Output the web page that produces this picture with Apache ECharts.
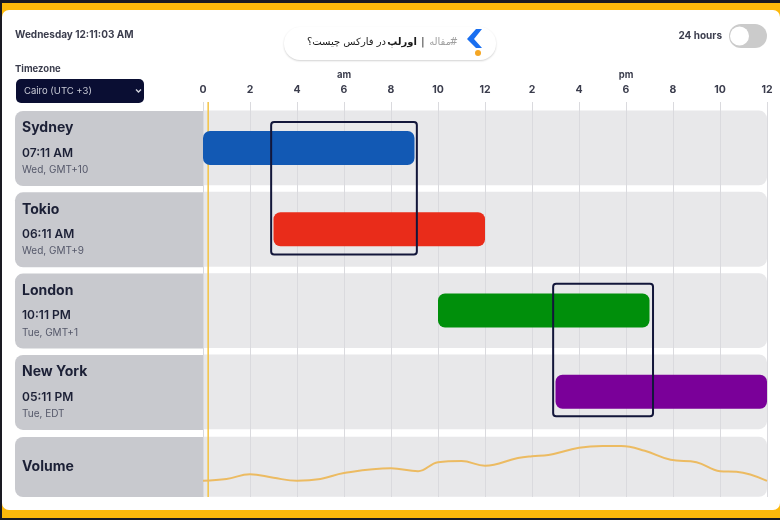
<!DOCTYPE html>
<html>
<head>
<meta charset="utf-8">
<title>Forex sessions</title>
<script src="https://cdn.jsdelivr.net/npm/echarts@6/dist/echarts.min.js"></script>
<style>
  html, body { margin: 0; padding: 0; background: #fff; }
  #chart { width: 780px; height: 520px; }
</style>
</head>
<body>
<div id="chart"></div>
<script>
// sessions, hours on a 0-24 axis
const cities = ['Sydney', 'Tokio', 'London', 'New York'];
const localTimes = ['07:11 AM', '06:11 AM', '10:11 PM', '05:11 PM'];
const zones = ['Wed, GMT+10', 'Wed, GMT+9', 'Tue, GMT+1', 'Tue, EDT'];
const sessionStart = [0, 3, 10, 15];
const sessionEnd = [9, 12, 19, 24];
const barColors = ['#1259b4', '#e92c1a', '#008f0b', '#7a0099'];

// overlap boxes, y is in row units (0 = Sydney)
const overlapStart = [2.9, 14.9];
const overlapEnd = [9.1, 19.15];
const overlapTop = [-0.32, 1.67];
const overlapBottom = [1.31, 3.3];

const nowHour = 0.22;
const tickLabels = ['0', '2', '4', '6', '8', '10', '12', '2', '4', '6', '8', '10', '12'];

// volume curve
const volumeHours = [0, 1, 2, 3, 4, 5, 6, 8, 9.15, 10, 11, 12, 13.4, 14, 14.7, 16, 17, 17.8, 18.8, 19.9, 21, 22, 22.7, 24];
const volumeValues = [27, 30, 38, 32, 27, 30, 40, 48, 43, 58, 60, 52, 65, 68, 70, 82, 85, 85, 77, 62, 58, 43, 42, 27];

const dark = '#1c2036';
const font = 'Inter';
const arabic = '"DejaVu Sans"';

const dom = document.getElementById('chart');
const myChart = echarts.init(dom);

// row bands in row units, the last one is the volume row
const rowBands = [[-0.46, 0.46], [0.54, 1.46], [1.54, 2.46], [2.54, 3.46], [3.555, 4.293]];

function text(x, y, str, size, weight, color, align, family) {
    return {
        type: 'text', x: x, y: y, z: 10,
        style: {
            text: str, fontSize: size, fontWeight: weight, fill: color,
            fontFamily: family || font, align: align || 'left', verticalAlign: 'middle'
        }
    };
}

// page chrome
let elements = [
    { type: 'rect', z: 0, shape: { x: 0, y: 0, width: 780, height: 520 }, style: { fill: '#1a1a22' } },
    { type: 'rect', z: 0, shape: { x: 2, y: 3, width: 778, height: 515 }, style: { fill: '#fdb90b' } },
    { type: 'rect', z: 0, shape: { x: 2, y: 10, width: 778, height: 500, r: 7 }, style: { fill: '#ffffff' } },

    text(15, 35, 'Wednesday 12:11:03 AM', 10, 700, '#3b3d4d'),
    text(15, 69.5, 'Timezone', 9.5, 700, '#3b3d4d'),
    { type: 'rect', z: 10, shape: { x: 16, y: 79, width: 128, height: 24, r: 5 }, style: { fill: '#0a0e33' } },
    text(24, 91, 'Cairo (UTC +3)', 9.5, 400, '#c9cbd6'),
    { type: 'polyline', z: 10, shape: { points: [[136, 89.5], [138.5, 92], [141, 89.5]] }, style: { stroke: '#d0d2dc', lineWidth: 1.4, fill: null } },

    // article pill
    { type: 'rect', z: 10, shape: { x: 284, y: 27, width: 212, height: 33, r: 16 }, style: { fill: '#fff', shadowBlur: 2, shadowColor: 'rgba(0,0,0,0.18)', shadowOffsetY: 1 } },
    text(417, 42, 'اورلپ', 10, 700, '#1a1a1a', 'right', arabic),
    text(386, 42, 'در فارکس چیست؟', 10, 400, '#1a1a1a', 'right', arabic),
    text(421, 42, '|', 11, 400, '#333', 'left', arabic),
    text(458, 42, '#', 10, 400, '#a0a0a0', 'right', arabic),
    text(451, 42, 'مقاله', 10, 400, '#a0a0a0', 'right', arabic),
    { type: 'polygon', z: 10, shape: { points: [[476, 29], [482, 29], [474, 39], [482, 48], [476, 48], [467, 39]] }, style: { fill: '#1a6ff0' } },
    { type: 'circle', z: 10, shape: { cx: 478, cy: 53, r: 3 }, style: { fill: '#f5a623' } },

    // 24 hours toggle
    text(722, 36, '24 hours', 10, 700, '#3b3d4d', 'right'),
    { type: 'rect', z: 10, shape: { x: 729, y: 24, width: 38, height: 24, r: 12 }, style: { fill: '#cbcbcb' } },
    { type: 'circle', z: 10, shape: { cx: 739.5, cy: 36, r: 9.5 }, style: { fill: '#ffffff' } },

    text(344, 75, 'am', 9.5, 700, '#3b3d4d', 'center'),
    text(626, 75, 'pm', 9.5, 700, '#3b3d4d', 'center')
];

// left label panels
cities.forEach((name, i) => {
    const top = 111 + i * 81.3;
    elements.push({ type: 'rect', z: 1, shape: { x: 15, y: top, width: 188, height: 75, r: [8, 0, 0, 8] }, style: { fill: '#c8c9ce' } });
    elements.push(text(22, top + 17, name, 14, 700, dark));
    elements.push(text(22, top + 42, localTimes[i], 12, 600, dark));
    elements.push(text(22, top + 59, zones[i], 10, 400, '#55586a'));
});
elements.push({ type: 'rect', z: 1, shape: { x: 15, y: 437, width: 188, height: 60, r: [8, 0, 0, 8] }, style: { fill: '#c8c9ce' } });
elements.push(text(22, 467, 'Volume', 14, 700, dark));

function renderRow(params, api) {
    const a = api.coord([api.value(0), api.value(2)]);
    const b = api.coord([api.value(1), api.value(3)]);
    return {
        type: 'rect',
        shape: { x: a[0], y: a[1], width: b[0] - a[0], height: b[1] - a[1], r: [0, 8, 8, 0] },
        style: { fill: '#e8e8ea' }
    };
}

function renderBar(params, api) {
    const row = api.value(2);
    const a = api.coord([api.value(0), row - 0.21]);
    const b = api.coord([api.value(1), row + 0.21]);
    return {
        type: 'rect',
        shape: { x: a[0], y: a[1], width: b[0] - a[0], height: b[1] - a[1], r: 7 },
        style: { fill: barColors[row] }
    };
}

function renderBox(params, api) {
    const a = api.coord([api.value(0), api.value(2)]);
    const b = api.coord([api.value(1), api.value(3)]);
    return {
        type: 'rect',
        shape: { x: a[0], y: a[1], width: b[0] - a[0], height: b[1] - a[1], r: 3 },
        style: { fill: 'none', stroke: '#12163a', lineWidth: 2 }
    };
}

const option = {
    backgroundColor: '#fff',
    animation: false,
    graphic: { elements: elements },
    grid: [
        { left: 203, right: 13, top: 102, height: 395 },
        { left: 203, right: 13, top: 437, height: 60 }
    ],
    xAxis: [
        {
            type: 'value', gridIndex: 0, min: 0, max: 24, interval: 2, position: 'top', z: 3,
            axisLine: { show: false },
            axisTick: { show: false },
            splitLine: { show: true, lineStyle: { color: '#dadade', width: 1 } },
            axisLabel: {
                margin: 7, fontSize: 10.5, fontWeight: 700, color: '#3b3d4d', fontFamily: font,
                showMinLabel: true, showMaxLabel: true,
                formatter: value => tickLabels[value / 2]
            }
        },
        { type: 'value', gridIndex: 1, min: 0, max: 24, show: false }
    ],
    yAxis: [
        { type: 'value', gridIndex: 0, min: -0.566, max: 4.295, inverse: true, show: false },
        { type: 'value', gridIndex: 1, min: 0, max: 100, show: false }
    ],
    series: [
        {
            type: 'custom', z: 1, xAxisIndex: 0, yAxisIndex: 0, silent: true, clip: false,
            renderItem: renderRow,
            encode: { x: [0, 1], y: [2, 3] },
            data: rowBands.map(b => [0, 24, b[0], b[1]])
        },
        {
            type: 'line', z: 4, xAxisIndex: 0, yAxisIndex: 0, symbol: 'none', silent: true,
            lineStyle: { color: '#f4c344', width: 1.5 },
            data: [[nowHour, -0.566], [nowHour, 4.295]]
        },
        {
            type: 'custom', z: 5, xAxisIndex: 0, yAxisIndex: 0, clip: false,
            renderItem: renderBar,
            encode: { x: [0, 1], y: 2 },
            data: cities.map((c, i) => [sessionStart[i], sessionEnd[i], i])
        },
        {
            type: 'custom', z: 7, xAxisIndex: 0, yAxisIndex: 0, clip: false,
            renderItem: renderBox,
            encode: { x: [0, 1], y: [2, 3] },
            data: overlapStart.map((s, i) => [s, overlapEnd[i], overlapTop[i], overlapBottom[i]])
        },
        {
            type: 'line', z: 6, xAxisIndex: 1, yAxisIndex: 1, symbol: 'none', smooth: 0.4,
            lineStyle: { color: '#ecbb62', width: 2 },
            data: volumeHours.map((h, i) => [h, volumeValues[i]])
        }
    ]
};

myChart.setOption(option);
</script>
</body>
</html>
